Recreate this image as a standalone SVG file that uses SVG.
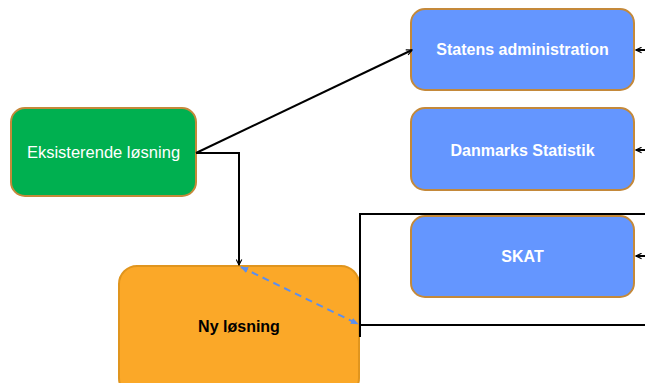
<svg xmlns="http://www.w3.org/2000/svg" width="645" height="383" viewBox="0 0 645 383">
<defs>
<marker id="ah" viewBox="0 0 10 10" refX="9" refY="5" markerWidth="7" markerHeight="7" orient="auto-start-reverse" markerUnits="userSpaceOnUse"><path d="M1,1 L9,5 L1,9" fill="none" stroke="#000" stroke-width="1.6"/></marker>
<marker id="ahb" viewBox="0 0 10 10" refX="9" refY="5" markerWidth="8" markerHeight="8" orient="auto-start-reverse" markerUnits="userSpaceOnUse"><path d="M0,1 L10,5 L0,9 Z" fill="#5B8FEF"/></marker>
</defs>
<style>
.node rect{stroke-width:2}
.blue rect{fill:#6496FF;stroke:#C4893A}
.t{font-family:"Liberation Sans",Arial,sans-serif;text-anchor:middle}
.b{font-weight:bold;font-size:16px;fill:#fff}
.c{fill:none;stroke:#000;stroke-width:2}
</style>
<g id="eksisterende" class="node">
<rect x="11" y="108" width="185" height="88" rx="14" fill="#00B050" stroke="#C4893A"/>
<text class="t" x="103.5" y="158" font-size="16.5" fill="#fff">Eksisterende løsning</text>
</g>
<g id="statens" class="node blue">
<rect x="411" y="9" width="223" height="81" rx="14"/>
<text class="t b" x="522.5" y="55">Statens administration</text>
</g>
<g id="danmarks" class="node blue">
<rect x="411" y="108" width="223" height="82" rx="14"/>
<text class="t b" x="522.5" y="156">Danmarks Statistik</text>
</g>
<g id="skat" class="node blue">
<rect x="411" y="216" width="223" height="81" rx="14"/>
<text class="t b" x="522.5" y="262">SKAT</text>
</g>
<g id="ny" class="node">
<rect x="119" y="266" width="240" height="130" rx="18" fill="#FBA828" stroke="#E0951E"/>
<text class="t b" x="239" y="332" style="fill:#000">Ny løsning</text>
</g>
<g id="connectors">
<polyline class="c" points="645,214 360,214 360,337"/>
<line class="c" x1="360" y1="325" x2="645" y2="325"/>
<line class="c" x1="196" y1="153" x2="412" y2="50" marker-end="url(#ah)"/>
<polyline class="c" points="196,153 239,153 239,265" marker-end="url(#ah)"/>
<line x1="241" y1="267" x2="358" y2="324" stroke="#5B8FEF" stroke-width="2" stroke-dasharray="7,5" marker-start="url(#ahb)" marker-end="url(#ahb)"/>
<line class="c" x1="645" y1="50" x2="636" y2="50" marker-end="url(#ah)"/>
<line class="c" x1="645" y1="150" x2="636" y2="150" marker-end="url(#ah)"/>
<line class="c" x1="645" y1="256" x2="636" y2="256" marker-end="url(#ah)"/>
</g>
</svg>
